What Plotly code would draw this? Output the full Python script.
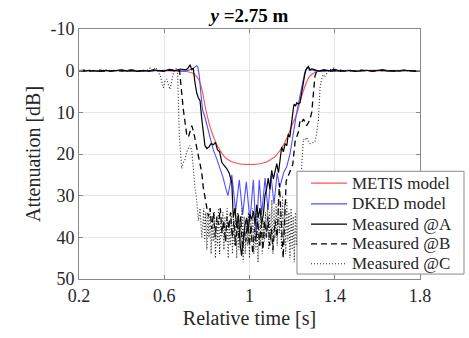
import plotly.graph_objects as go

# ---------------- data ----------------
t_metis = [0.20, 0.40, 0.60, 0.66, 0.70, 0.72, 0.74, 0.76, 0.77, 0.78, 0.79, 0.80, 0.82, 0.84, 0.86,
           0.88, 0.90, 0.92, 0.94, 0.96, 0.98, 1.00, 1.02, 1.04, 1.06, 1.08, 1.10, 1.12, 1.14, 1.16,
           1.18, 1.20, 1.22, 1.24, 1.26, 1.28, 1.30, 1.32, 1.36, 1.50, 1.80]
metis_db = [0.0, 0.0, 0.0, 0.1, 0.2, 0.4, 0.8, 2.0, 3.2, 5.2, 8.0, 10.5, 14.3, 17.0, 19.0,
            20.5, 21.4, 21.9, 22.2, 22.4, 22.5, 22.5, 22.5, 22.4, 22.2, 21.9, 21.3, 20.6, 19.4, 17.8,
            15.6, 13.0, 10.6, 7.0, 3.8, 1.5, 0.6, 0.2, 0.05, 0.0, 0.0]

t_dked = [0.20, 0.30, 0.40, 0.50, 0.60, 0.65, 0.70, 0.72, 0.735, 0.745, 0.752, 0.758, 0.765, 0.772, 0.78,
          0.79, 0.80, 0.815, 0.83, 0.845, 0.86, 0.875, 0.89, 0.899, 0.917, 0.935, 0.952, 0.968, 0.985, 1.002,
          1.018, 1.031, 1.046, 1.057, 1.073, 1.087, 1.101, 1.115, 1.13, 1.142, 1.16, 1.175, 1.19, 1.205, 1.22,
          1.235, 1.25, 1.26, 1.271, 1.282, 1.295, 1.31, 1.35, 1.40, 1.50, 1.60, 1.70, 1.80]
dked_db = [0.0, 0.1, -0.1, 0.1, -0.1, 0.0, 0.1, -0.2, -0.5, -0.9, -1.2, -0.8, 1.5, 5.5, 9.5,
           11.0, 13.0, 16.0, 19.0, 21.0, 23.0, 25.5, 28.5, 30.0, 25.0, 33.7, 26.2, 34.5, 26.7, 36.0,
           26.2, 39.3, 26.2, 34.5, 25.8, 33.5, 25.2, 32.0, 24.5, 28.0, 24.5, 23.0, 20.0, 15.0, 10.5,
           6.5, 2.5, 0.3, -0.9, 0.0, -0.2, 0.1, 0.0, 0.1, 0.0, -0.1, 0.0, 0.0]

t_a = [0.20, 0.225, 0.25, 0.275, 0.30, 0.325, 0.35, 0.375, 0.40, 0.425, 0.45, 0.475, 0.50, 0.525, 0.55,
       0.575, 0.60, 0.625, 0.65, 0.675, 0.70,
       0.71, 0.721, 0.729, 0.736, 0.744, 0.752, 0.76, 0.768, 0.776, 0.784, 0.791, 0.80, 0.81, 0.82, 0.83,
       0.84, 0.85, 0.86, 0.87, 0.88, 0.893, 0.905, 0.917, 0.924, 0.932, 0.940, 0.948, 0.956, 0.963, 0.971,
       0.979, 0.987, 0.994, 1.002, 1.010, 1.018, 1.026, 1.034, 1.041, 1.049, 1.057, 1.065, 1.073, 1.081,
       1.088, 1.096, 1.104, 1.112, 1.120, 1.128, 1.136, 1.144, 1.151, 1.159, 1.167, 1.175, 1.182, 1.189,
       1.195, 1.201, 1.206, 1.210, 1.216, 1.222, 1.229, 1.237, 1.245, 1.253, 1.259, 1.265, 1.270, 1.276,
       1.284, 1.292, 1.30,
       1.325, 1.35, 1.375, 1.40, 1.425, 1.45, 1.475, 1.50, 1.525, 1.55, 1.575, 1.60, 1.625, 1.65, 1.675,
       1.70, 1.725, 1.75, 1.775, 1.80]
meas_a = [0.0, 0.1, -0.1, 0.0, 0.2, -0.1, 0.1, 0.0, -0.2, 0.1, 0.0, 0.2, -0.1, 0.1, -0.2,
          0.0, 0.1, -0.3, 0.0, -0.4, -0.2,
          -0.5, -1.4, -0.3, -0.6, 2.8, 5.3, 6.5, 7.2, 11.6, 15.5, 18.0, 18.7, 18.3, 17.5, 17.8,
          17.2, 19.0, 19.5, 22.0, 22.7, 23.5, 24.6, 27.0, 35.3, 33.0, 37.7, 34.5, 41.6, 44.4, 40.8,
          36.9, 35.3, 38.5, 34.5, 35.7, 33.7, 36.9, 32.2, 35.3, 33.0, 36.9, 34.5, 29.8, 28.2,
          25.8, 28.5, 23.9, 26.0, 24.0, 22.3, 24.5, 20.5, 18.3, 19.5, 17.5, 18.0, 15.2, 16.0,
          13.6, 10.0, 9.0, 8.0, 8.5, 7.7, 8.0, 7.7, 5.3, 2.1, 1.0, -0.2, -0.6, -1.0,
          -0.2, -0.4, -0.3,
          0.1, -0.2, 0.0, -0.3, 0.1, 0.0, -0.1, 0.2, 0.0, -0.1, 0.1, 0.0, -0.2, 0.1, 0.0,
          0.1, -0.1, 0.0, 0.1, 0.0]

t_b = [0.20, 0.225, 0.25, 0.275, 0.30, 0.325, 0.35, 0.375, 0.40, 0.425, 0.45, 0.475, 0.50, 0.525, 0.55,
       0.575, 0.60, 0.625, 0.65,
       0.66, 0.672, 0.678, 0.684, 0.690, 0.697, 0.705, 0.713, 0.720, 0.729, 0.737, 0.744, 0.752, 0.760,
       0.768, 0.776, 0.783, 0.791, 0.799,
       0.807, 0.815, 0.823, 0.831, 0.839, 0.847, 0.855, 0.863, 0.871, 0.879, 0.887, 0.895, 0.903, 0.911,
       0.919, 0.927, 0.935, 0.943, 0.951, 0.959, 0.967, 0.975, 0.983, 0.991, 0.999, 1.007, 1.015, 1.023,
       1.031, 1.039, 1.047, 1.055, 1.063, 1.071, 1.079, 1.087, 1.095,
       1.103, 1.11, 1.12, 1.13, 1.14, 1.15, 1.158, 1.165, 1.172, 1.18, 1.19, 1.197, 1.203, 1.214, 1.229,
       1.237, 1.245, 1.253, 1.26, 1.268, 1.276, 1.284, 1.292, 1.299, 1.307, 1.315, 1.325,
       1.35, 1.375, 1.40, 1.425, 1.45, 1.475, 1.50, 1.525, 1.55, 1.575, 1.60, 1.625, 1.65, 1.675,
       1.70, 1.725, 1.75, 1.775, 1.80]
meas_b = [0.0, -0.1, 0.1, 0.0, -0.1, 0.2, 0.0, -0.1, 0.1, 0.0, -0.2, 0.1, 0.0, 0.1, -0.1,
          0.0, 0.1, -0.2, 0.0,
          0.1, 0.0, 2.5, 6.5, 9.5, 12.5, 15.2, 16.0, 14.5, 13.2, 14.5, 16.4, 18.5, 20.3,
          22.5, 24.5, 28.0, 30.5, 32.0,
          35, 33, 38, 34, 40, 35, 37, 33, 39, 36, 41, 35, 38, 34,
          40, 36, 42, 37, 40, 35, 43, 38, 41, 36, 42, 37, 44, 38,
          41, 36, 42, 37, 43, 36, 40, 35, 42,
          38, 43, 36, 40, 27, 38, 45, 36, 26.5, 25.5, 24.2, 23.5, 22.5, 17.0, 14.8,
          12.0, 12.5, 11.6, 12.5, 13.2, 12.5, 11.6, 10.0, 5.3, 1.3, 0.2, 0.0,
          -0.1, 0.1, 0.0, -0.1, 0.1, 0.0, 0.1, -0.1, 0.0, 0.1, 0.0, -0.1, 0.0, 0.1,
          0.0, -0.1, 0.0, 0.1, 0.0]

t_c_left = [0.20, 0.225, 0.25, 0.275, 0.30, 0.325, 0.35, 0.375, 0.40, 0.425, 0.45, 0.475, 0.50,
            0.515, 0.525, 0.533, 0.541, 0.549, 0.557, 0.565, 0.573, 0.580, 0.588, 0.596, 0.604, 0.612,
            0.619, 0.627, 0.635, 0.643, 0.650, 0.658, 0.663, 0.666, 0.671, 0.677, 0.682, 0.69, 0.697,
            0.705, 0.713, 0.72, 0.729, 0.736, 0.744, 0.752, 0.76, 0.768, 0.776]
meas_c_left = [0.0, 0.1, -0.1, 0.1, 0.0, -0.2, 0.1, 0.0, -0.1, 0.2, 0.0, -0.1, 0.1,
               0.1, -0.3, -0.6, 0.3, 0.0, -0.8, -0.4, 0.6, 1.0, 2.5, 4.1, 2.5, 2.0,
               3.3, 4.5, 2.5, 0.5, -0.2, -0.6, 1.0, 8.0, 16.0, 20.0, 23.5, 22.0, 21.5,
               19.5, 18.7, 18.0, 19.0, 24.0, 28.0, 31.0, 36.0, 33.0, 40.0]
# fine sampled deep part of @C, every 5 ms from 0.780 s to 1.235 s
t_c_deep0 = 0.780
t_c_deep_step = 0.005
meas_c_deep = [38, 33, 41, 34, 43, 35, 40, 33, 44, 36,
               41, 34, 45, 35, 42, 33, 44, 36, 40, 34,
               43, 35, 41, 33, 45, 36, 42, 34, 44, 35,
               42, 35, 45, 34, 43, 36, 41, 33, 46, 35,
               44, 36, 42, 34, 45, 35, 41, 33, 44, 36,
               43, 34, 46, 35, 42, 33, 44, 36, 41, 34,
               40, 32, 43, 34, 41, 31, 44, 33, 40, 32,
               42, 31, 39, 33, 43, 30, 41, 32, 44, 31,
               41, 34, 45, 33, 43, 35, 46, 34, 42, 33,
               44, 36]
t_c_right = [1.241, 1.245, 1.253, 1.26, 1.268, 1.276, 1.284, 1.295, 1.307, 1.315, 1.323, 1.331, 1.338,
             1.346, 1.354, 1.369, 1.38, 1.393, 1.41,
             1.425, 1.45, 1.475, 1.50, 1.525, 1.55, 1.575, 1.60, 1.625, 1.65, 1.675, 1.70, 1.725,
             1.75, 1.775, 1.80]
meas_c_right = [30, 22.7, 16.4, 16.7, 16.0, 17.0, 17.5, 17.3, 17.1, 15.2, 12.0, 4.1, 2.1,
                1.0, 1.3, 0.2, -0.3, -0.6, 0.0,
                0.1, -0.1, 0.0, 0.1, -0.1, 0.0, 0.1, 0.0, -0.1, 0.1, 0.0, -0.1, 0.0,
                0.1, 0.0, 0.0]

x_ticks = [0.2, 0.6, 1.0, 1.4, 1.8]
x_ticktext = ["0.2", "0.6", "1", "1.4", "1.8"]
y_ticks = [-10, 0, 10, 20, 30, 40, 50]
y_ticktext = ["-10", "0", "10", "20", "30", "40", "50"]
series_names = ["METIS model", "DKED model", "Measured @A", "Measured @B", "Measured @C"]

# ---------------- figure ----------------
t_c = (t_c_left
       + [round(t_c_deep0 + i * t_c_deep_step, 4) for i in range(len(meas_c_deep))]
       + t_c_right)
meas_c = meas_c_left + meas_c_deep + meas_c_right

FONT = "Liberation Serif, Times New Roman, serif"
TXT = "#262626"
styles = [
    dict(color="rgb(255,80,80)", width=1.1, shape="spline"),
    dict(color="rgb(80,80,255)", width=1.1),
    dict(color="black", width=1.2),
    dict(color="black", width=1.3, dash="6px,4px"),
    dict(color="rgb(40,40,40)", width=1.1, dash="1px,2px"),
]
xs = [t_metis, t_dked, t_a, t_b, t_c]
ys = [metis_db, dked_db, meas_a, meas_b, meas_c]

fig = go.Figure()
for name, x, y, st in zip(series_names, xs, ys, styles):
    fig.add_trace(go.Scatter(x=x, y=y, mode="lines", name=name, line=st, showlegend=False))

axis_common = dict(showline=True, linecolor="#8a8a8a", linewidth=1, mirror="ticks",
                   ticks="inside", ticklen=4, tickcolor="#8a8a8a",
                   showgrid=True, gridcolor="#e6e6e6", gridwidth=1, zeroline=False,
                   tickfont=dict(family=FONT, size=18, color=TXT))
fig.update_xaxes(range=[0.2, 1.8], tickvals=x_ticks, ticktext=x_ticktext,
                 title=dict(text="Relative time [s]", font=dict(family=FONT, size=20, color=TXT),
                            standoff=6),
                 **axis_common)
fig.update_yaxes(range=[50, -10], tickvals=y_ticks, ticktext=y_ticktext,
                 title=dict(text="Attenuation [dB]", font=dict(family=FONT, size=20, color=TXT),
                            standoff=4),
                 **axis_common)

# ---- legend box drawn in paper coordinates (MATLAB-like compact legend) ----
L, R, T, B = 79, 420, 29, 282          # plot area in pixels
def px(xp):
    return (xp - L) / (R - L)
def py(yp):
    return (B - yp) / (B - T)

shapes = [dict(type="rect", xref="paper", yref="paper",
               x0=px(297), x1=px(464), y0=py(277), y1=py(173),
               line=dict(color="#8a8a8a", width=1), fillcolor="white", layer="above")]
annotations = []
row_y = [185, 206, 226.5, 246.5, 266.5]
for name, st, ry in zip(series_names, styles, row_y):
    ln = dict(color=st["color"], width=st["width"])
    if "dash" in st:
        ln["dash"] = st["dash"]
    shapes.append(dict(type="line", xref="paper", yref="paper",
                       x0=px(311), x1=px(347), y0=py(ry), y1=py(ry), line=ln, layer="above"))
    annotations.append(dict(text=name, xref="paper", yref="paper", x=px(350), y=py(ry),
                            xanchor="left", yanchor="middle", showarrow=False,
                            font=dict(family=FONT, size=17, color=TXT)))

fig.update_layout(
    width=469, height=338,
    margin=dict(l=79, r=49, t=29, b=56),
    paper_bgcolor="white", plot_bgcolor="white",
    title=dict(text="<b><i>y</i> =2.75 m</b>", x=0.5, xref="paper", y=1 - 15 / 338, yanchor="middle",
               xanchor="center", font=dict(family=FONT, size=19, color="black")),
    shapes=shapes, annotations=annotations,
    showlegend=False,
)

fig.write_html("out.html")
